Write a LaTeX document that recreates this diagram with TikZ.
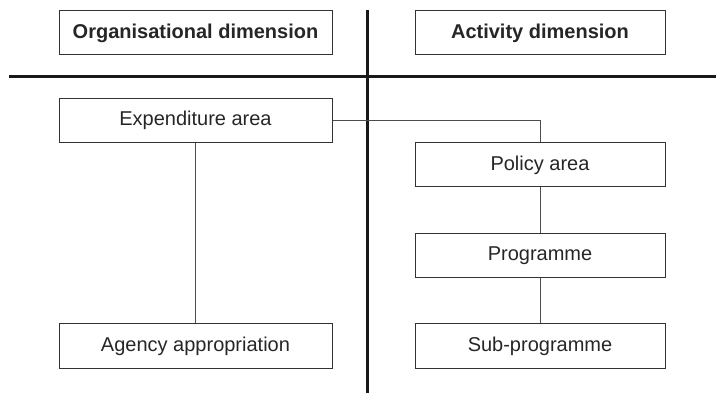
\documentclass[tikz,border=0pt]{standalone}
\usepackage{fontspec}
\setmainfont{Liberation Sans}
\begin{document}
\begin{tikzpicture}[x=1pt,y=-1pt,
  box/.style={draw=black!80,line width=1pt,minimum height=44pt,inner sep=0pt,
    font=\fontsize{20pt}{24pt}\selectfont,text=black!85},
  leftbox/.style={box,minimum width=273pt},
  rightbox/.style={box,minimum width=250pt},
  head/.style={font=\fontsize{20pt}{24pt}\selectfont\bfseries},
  divider/.style={draw=black!90,line width=2.4pt},
  link/.style={draw=black!70,line width=1pt}]
  \useasboundingbox (0,0) rectangle (716,393);

  % quadrant dividers
  \coordinate (hl) at (9,76.5);
  \coordinate (hr) at (716,76.5);
  \coordinate (vt) at (367.5,10);
  \coordinate (vb) at (367.5,393);
  \draw[divider] (hl) -- (hr);
  \draw[divider] (vt) -- (vb);

  % column headings
  \node[leftbox,head]  (org) at (195.5,33)  {Organisational dimension};
  \node[rightbox,head] (act) at (540,33)    {Activity dimension};

  % organisational column
  \node[leftbox] (exp) at (195.5,120.5) {Expenditure area};
  \node[leftbox] (agy) at (195.5,346)   {Agency appropriation};

  % activity column
  \node[rightbox] (pol) at (540,165)   {Policy area};
  \node[rightbox] (prg) at (540,255.5) {Programme};
  \node[rightbox] (sub) at (540,346)   {Sub-programme};

  % connectors
  \draw[link] (exp.south) -- (agy.north);
  \draw[link] (exp.east) -| (pol.north);
  \draw[link] (pol.south) -- (prg.north);
  \draw[link] (prg.south) -- (sub.north);
\end{tikzpicture}
\end{document}
